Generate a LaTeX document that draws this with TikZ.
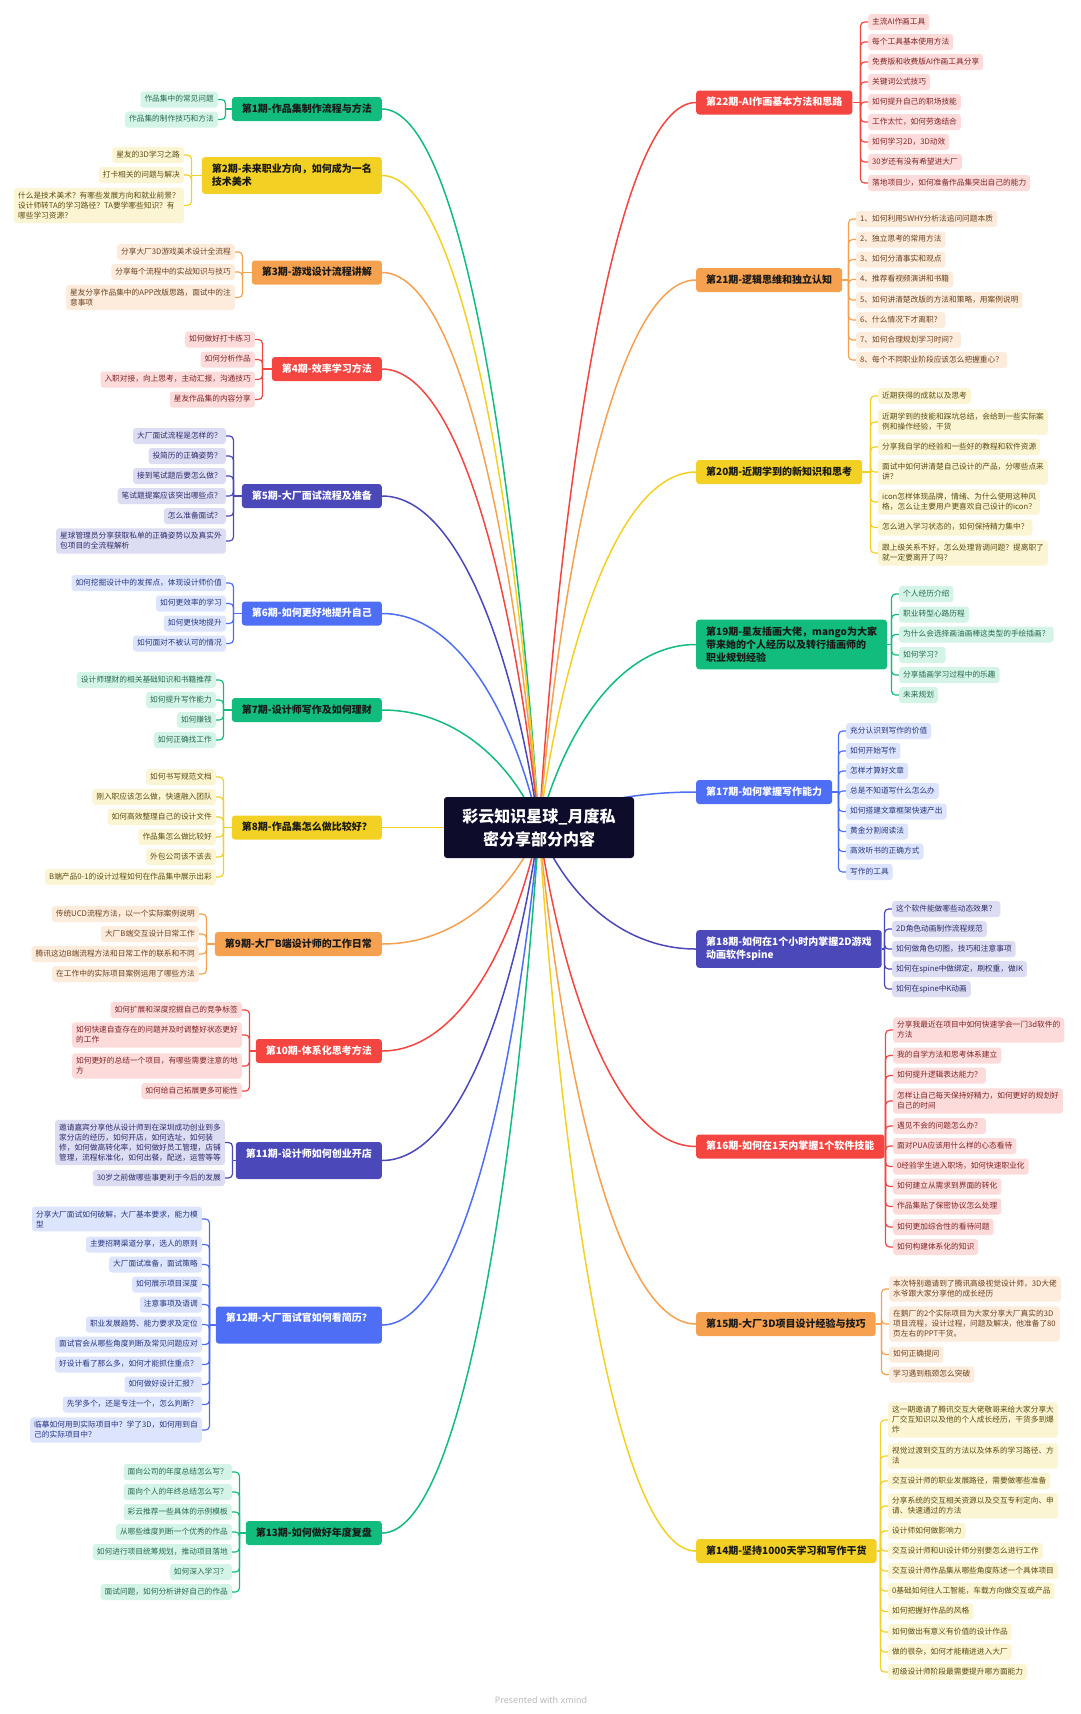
\documentclass[tikz,border=0pt]{standalone}
\usepackage{fontspec}
\setmainfont{Noto Sans CJK SC}
\newfontfamily\latinfont{Noto Sans}
\usetikzlibrary{calc}
\pgfdeclarelayer{bg}
\pgfsetlayers{bg,main}
\definecolor{cG}{HTML}{12BC7C}
\definecolor{cY}{HTML}{F2D124}
\definecolor{cO}{HTML}{F6A14F}
\definecolor{cR}{HTML}{F44541}
\definecolor{cI}{HTML}{4B48B9}
\definecolor{cB}{HTML}{4E6EF6}
\definecolor{fG}{HTML}{D3F4E6}
\definecolor{fY}{HTML}{FCF5D3}
\definecolor{fO}{HTML}{FDEBDC}
\definecolor{fR}{HTML}{FDDBDB}
\definecolor{fI}{HTML}{DCDCF2}
\definecolor{fB}{HTML}{DDE4FE}
\definecolor{xG}{HTML}{2A6A50}
\definecolor{xY}{HTML}{5C4C12}
\definecolor{xO}{HTML}{6B4320}
\definecolor{xR}{HTML}{7E2525}
\definecolor{xI}{HTML}{2E2D6C}
\definecolor{xB}{HTML}{28387E}
\definecolor{ctrC}{HTML}{0D0C2B}
\definecolor{footC}{HTML}{BBBBBB}
\tikzset{
 lf/.style={rounded corners=3pt, inner xsep=4pt, inner ysep=4pt, font=\fontsize{7.7}{10}\selectfont, text height=6.3pt, text depth=1.7pt, align=left},
 ml/.style={text height=, text depth=},
 lfG/.style={fill=fG,text=xG}, lfY/.style={fill=fY,text=xY}, lfO/.style={fill=fO,text=xO},
 lfR/.style={fill=fR,text=xR}, lfI/.style={fill=fI,text=xI}, lfB/.style={fill=fB,text=xB},
 ttl/.style={rounded corners=3pt, inner xsep=10pt, inner ysep=7pt, font=\fontsize{10}{13}\selectfont\bfseries, text height=8pt, text depth=2pt, align=left},
 tml/.style={text height=, text depth=},
 tall/.style={text depth=15pt},
 tG/.style={fill=cG,text=black!90}, tY/.style={fill=cY,text=black!90}, tO/.style={fill=cO,text=black!90},
 tR/.style={fill=cR,text=white}, tI/.style={fill=cI,text=white}, tB/.style={fill=cB,text=white},
 br/.style={line width=1.2pt, rounded corners=4pt},
 lnG/.style={draw=cG}, lnY/.style={draw=cY}, lnO/.style={draw=cO},
 lnR/.style={draw=cR}, lnI/.style={draw=cI}, lnB/.style={draw=cB},
 hubline/.style={line width=1.5pt}
}
\newcommand\hublink[2]{\draw[hubline,#2] let \p1=(ctr.center), \p2=(#1) in (\p1) .. controls ({\x1+0.15*(\x2-\x1)},{0.5*\y1+0.5*\y2}) and ({0.5*\x1+0.5*\x2},\y2) .. (\p2);}
\newcommand\TL[6]{\node[ttl,t#2,anchor=east,#6] (#1) at (382,#3) {#4};
 \coordinate (b#1) at (#5,#3);
 \begin{pgfonlayer}{bg}\draw[br,ln#2] (#1.west) -- (b#1); \hublink{#1.east}{ln#2}\end{pgfonlayer}}
\newcommand\TR[6]{\node[ttl,t#2,anchor=west,#6] (#1) at (696,#3) {#4};
 \coordinate (b#1) at (#5,#3);
 \begin{pgfonlayer}{bg}\draw[br,ln#2] (#1.east) -- (b#1); \hublink{#1.west}{ln#2}\end{pgfonlayer}}
\newcommand\LL[6]{\node[lf,lf#2,anchor=east] (#1) at (#3,#4) {#5};
 \begin{pgfonlayer}{bg}\draw[br,ln#2] (#6) |- (#1.east);\end{pgfonlayer}}
\newcommand\LM[6]{\node[lf,ml,lf#2,anchor=east] (#1) at (#3,#4) {#5};
 \begin{pgfonlayer}{bg}\draw[br,ln#2] (#6) |- (#1.east);\end{pgfonlayer}}
\newcommand\RL[6]{\node[lf,lf#2,anchor=west] (#1) at (#3,#4) {#5};
 \begin{pgfonlayer}{bg}\draw[br,ln#2] (#6) |- (#1.west);\end{pgfonlayer}}
\newcommand\RM[6]{\node[lf,ml,lf#2,anchor=west] (#1) at (#3,#4) {#5};
 \begin{pgfonlayer}{bg}\draw[br,ln#2] (#6) |- (#1.west);\end{pgfonlayer}}
\begin{document}
\begin{tikzpicture}[x=1pt,y=-1pt]
\useasboundingbox (0,0) rectangle (1080,1714);
\begin{pgfonlayer}{bg}\fill[white] (0,0) rectangle (1080,1714);\end{pgfonlayer}
\node[fill=ctrC, text=white, rounded corners=3pt, minimum width=190pt, minimum height=61pt, align=center, font=\fontsize{16}{23}\selectfont\bfseries] (ctr) at (539,827.5) {彩云知识星球\_月度私\\密分享部分内容};

% ---------- left side ----------
\TL{t1}{G}{109}{第1期-作品集制作流程与方法}{225.5}{}
\LL{l1a}{G}{218}{99.5}{作品集中的常见问题}{bt1}
\LL{l1b}{G}{218}{119.5}{作品集的制作技巧和方法}{bt1}

\TL{t2}{Y}{175.5}{第2期-未来职业方向，如何成为一名\\技术美术}{191.5}{tml}
\LL{l2a}{Y}{184}{155}{星友的3D学习之路}{bt2}
\LL{l2b}{Y}{184}{175}{打卡相关的问题与解决}{bt2}
\LM{l2c}{Y}{184}{205.5}{什么是技术美术？有哪些发展方向和就业前景？\\设计师转TA的学习路径？TA要学哪些知识？有\\哪些学习资源？}{bt2}

\TL{t3}{O}{272.5}{第3期-游戏设计流程讲解}{242.5}{}
\LL{l3a}{O}{235}{252}{分享大厂3D游戏美术设计全流程}{bt3}
\LL{l3b}{O}{235}{272}{分享每个流程中的实战知识与技巧}{bt3}
\LM{l3c}{O}{235}{297.5}{星友分享作品集中的APP改版思路，面试中的注\\意事项}{bt3}

\TL{t4}{R}{369}{第4期-效率学习方法}{262.5}{}
\LL{l4a}{R}{255}{339.5}{如何做好打卡练习}{bt4}
\LL{l4b}{R}{255}{359.5}{如何分析作品}{bt4}
\LL{l4c}{R}{255}{379.5}{入职对接，向上思考，主动汇报，沟通技巧}{bt4}
\LL{l4d}{R}{255}{399.5}{星友作品集的内容分享}{bt4}

\TL{t5}{I}{496}{第5期-大厂面试流程及准备}{233.5}{}
\LL{l5a}{I}{226}{436}{大厂面试流程是怎样的？}{bt5}
\LL{l5b}{I}{226}{456}{投简历的正确姿势？}{bt5}
\LL{l5c}{I}{226}{476}{接到笔试题后要怎么做？}{bt5}
\LL{l5d}{I}{226}{496}{笔试题提案应该突出哪些点？}{bt5}
\LL{l5e}{I}{226}{516}{怎么准备面试？}{bt5}
\LM{l5f}{I}{226}{541}{星球管理员分享获取私单的正确姿势以及真实外\\包项目的全流程解析}{bt5}

\TL{t6}{B}{613.5}{第6期-如何更好地提升自己}{233.5}{}
\LL{l6a}{B}{226}{583}{如何挖掘设计中的发挥点，体现设计师价值}{bt6}
\LL{l6b}{B}{226}{603.5}{如何更效率的学习}{bt6}
\LL{l6c}{B}{226}{623.5}{如何更快地提升}{bt6}
\LL{l6d}{B}{226}{643.5}{如何面对不被认可的情况}{bt6}

\TL{t7}{G}{710}{第7期-设计师写作及如何理财}{223.5}{}
\LL{l7a}{G}{216}{680}{设计师理财的相关基础知识和书籍推荐}{bt7}
\LL{l7b}{G}{216}{700}{如何提升写作能力}{bt7}
\LL{l7c}{G}{216}{720}{如何赚钱}{bt7}
\LL{l7d}{G}{216}{740}{如何正确找工作}{bt7}

\TL{t8}{Y}{827.5}{第8期-作品集怎么做比较好？}{223.5}{}
\LL{l8a}{Y}{216}{777}{如何书写规范文档}{bt8}
\LL{l8b}{Y}{216}{797}{刚入职应该怎么做，快速融入团队}{bt8}
\LL{l8c}{Y}{216}{817}{如何高效整理自己的设计文件}{bt8}
\LL{l8d}{Y}{216}{837}{作品集怎么做比较好}{bt8}
\LL{l8e}{Y}{216}{857}{外包公司该不该去}{bt8}
\LL{l8f}{Y}{216}{877}{B端产品0-1的设计过程如何在作品集中展示出彩}{bt8}

\TL{t9}{O}{944}{第9期-大厂B端设计师的工作日常}{206.5}{}
\LL{l9a}{O}{199}{914}{传统UCD流程方法，以一个实际案例说明}{bt9}
\LL{l9b}{O}{199}{934}{大厂B端交互设计日常工作}{bt9}
\LL{l9c}{O}{199}{954}{腾讯这边B端流程方法和日常工作的联系和不同}{bt9}
\LL{l9d}{O}{199}{974}{在工作中的实际项目案例运用了哪些方法}{bt9}

\TL{t10}{R}{1051}{第10期-体系化思考方法}{249.5}{}
\LL{l10a}{R}{242}{1010}{如何扩展和深度挖掘自己的竞争标签}{bt10}
\LM{l10b}{R}{242}{1035}{如何快速自查存在的问题并及时调整好状态更好\\的工作}{bt10}
\LM{l10c}{R}{242}{1066}{如何更好的总结一个项目，有哪些需要注意的地\\方}{bt10}
\LL{l10d}{R}{242}{1091}{如何给自己拓展更多可能性}{bt10}

\TL{t11}{I}{1160.5}{第11期-设计师如何创业开店}{232.5}{tall}
\LM{l11a}{I}{225}{1142.5}{邀请嘉宾分享他从设计师到在深圳成功创业到多\\家分店的经历，如何开店，如何选址，如何装\\修，如何做高转化率，如何做好员工管理，店铺\\管理，流程标准化，如何出餐，配送，运营等等}{bt11}
\LL{l11b}{I}{225}{1178}{30岁之前做哪些事更利于今后的发展}{bt11}

\TL{t12}{B}{1325}{第12期-大厂面试官如何看简历？}{209.5}{tall}
\LM{l12a}{B}{202}{1219}{分享大厂面试如何破解，大厂基本要求，能力模\\型}{bt12}
\LL{l12b}{B}{202}{1244.5}{主要招聘渠道分享，选人的原则}{bt12}
\LL{l12c}{B}{202}{1264.5}{大厂面试准备，面试策略}{bt12}
\LL{l12d}{B}{202}{1284.5}{如何展示项目深度}{bt12}
\LL{l12e}{B}{202}{1304.5}{注意事项及语调}{bt12}
\LL{l12f}{B}{202}{1324.5}{职业发展趋势、能力要求及定位}{bt12}
\LL{l12g}{B}{202}{1344.5}{面试官会从哪些角度判断及常见问题应对}{bt12}
\LL{l12h}{B}{202}{1364.5}{好设计看了那么多，如何才能抓住重点？}{bt12}
\LL{l12i}{B}{202}{1384.5}{如何做好设计汇报？}{bt12}
\LL{l12j}{B}{202}{1404.5}{先学多个，还是专注一个，怎么判断？}{bt12}
\LM{l12k}{B}{202}{1430}{临摹如何用到实际项目中？学了3D，如何用到自\\己的实际项目中？}{bt12}

\TL{t13}{G}{1533}{第13期-如何做好年度复盘}{239.5}{}
\LL{l13a}{G}{232}{1472}{面向公司的年度总结怎么写？}{bt13}
\LL{l13b}{G}{232}{1492}{面向个人的年终总结怎么写？}{bt13}
\LL{l13c}{G}{232}{1512}{彩云推荐一些具体的示例模板}{bt13}
\LL{l13d}{G}{232}{1532}{从哪些维度判断一个优秀的作品}{bt13}
\LL{l13e}{G}{232}{1552}{如何进行项目统筹规划，推动项目落地}{bt13}
\LL{l13f}{G}{232}{1572}{如何深入学习？}{bt13}
\LL{l13g}{G}{232}{1592}{面试问题，如何分析讲好自己的作品}{bt13}

% ---------- right side ----------
\TR{t22}{R}{102.5}{第22期-AI作画基本方法和思路}{860.5}{}
\RL{r22a}{R}{868}{22}{主流AI作画工具}{bt22}
\RL{r22b}{R}{868}{42}{每个工具基本使用方法}{bt22}
\RL{r22c}{R}{868}{62}{免费版和收费版AI作画工具分享}{bt22}
\RL{r22d}{R}{868}{82}{关键词公式技巧}{bt22}
\RL{r22e}{R}{868}{102}{如何提升自己的职场技能}{bt22}
\RL{r22f}{R}{868}{122}{工作太忙，如何劳逸结合}{bt22}
\RL{r22g}{R}{868}{142}{如何学习2D，3D动效}{bt22}
\RL{r22h}{R}{868}{162}{30岁还有没有希望进大厂}{bt22}
\RL{r22i}{R}{868}{183}{落地项目少，如何准备作品集突出自己的能力}{bt22}

\TR{t21}{O}{280}{第21期-逻辑思维和独立认知}{848.5}{}
\RL{r21a}{O}{856}{219}{1、如何利用5WHY分析法追问问题本质}{bt21}
\RL{r21b}{O}{856}{239.5}{2、独立思考的常用方法}{bt21}
\RL{r21c}{O}{856}{259.5}{3、如何分清事实和观点}{bt21}
\RL{r21d}{O}{856}{279.5}{4、推荐看视频演讲和书籍}{bt21}
\RL{r21e}{O}{856}{300}{5、如何讲清楚改版的方法和策略，用案例说明}{bt21}
\RL{r21f}{O}{856}{320}{6、什么情况下才离职？}{bt21}
\RL{r21g}{O}{856}{340}{7、如何合理规划学习时间？}{bt21}
\RL{r21h}{O}{856}{360}{8、每个不同职业阶段应该怎么把握重心？}{bt21}

\TR{t20}{Y}{472}{第20期-近期学到的新知识和思考}{870.5}{}
\RL{r20a}{Y}{878}{396}{近期获得的成就以及思考}{bt20}
\RM{r20b}{Y}{878}{422}{近期学到的技能和踩坑总结，会给到一些实际案\\例和操作经验，干货}{bt20}
\RL{r20c}{Y}{878}{447}{分享我自学的经验和一些好的教程和软件资源}{bt20}
\RM{r20d}{Y}{878}{472}{面试中如何讲清楚自己设计的产品，分哪些点来\\讲？}{bt20}
\RM{r20e}{Y}{878}{502}{icon怎样体现品牌，情绪、为什么使用这种风\\格，怎么让主要用户更喜欢自己设计的icon？}{bt20}
\RL{r20f}{Y}{878}{527.5}{怎么进入学习状态的，如何保持精力集中？}{bt20}
\RM{r20g}{Y}{878}{553}{跟上级关系不好，怎么处理背调问题？提离职了\\就一定要离开了吗？}{bt20}

\TR{t19}{G}{644.5}{第19期-星友插画大佬，mango为大家\\带来她的个人经历以及转行插画师的\\职业规划经验}{891.5}{tml}
\RL{r19a}{G}{899}{594}{个人经历介绍}{bt19}
\RL{r19b}{G}{899}{614.5}{职业转型心路历程}{bt19}
\RL{r19c}{G}{899}{634.5}{为什么会选择画油画棒这类型的手绘插画？}{bt19}
\RL{r19d}{G}{899}{655}{如何学习？}{bt19}
\RL{r19e}{G}{899}{675}{分享插画学习过程中的乐趣}{bt19}
\RL{r19f}{G}{899}{695}{未来规划}{bt19}

\TR{t17}{B}{792}{第17期-如何掌握写作能力}{838.5}{}
\RL{r17a}{B}{846}{731}{充分认识到写作的价值}{bt17}
\RL{r17b}{B}{846}{751}{如何开始写作}{bt17}
\RL{r17c}{B}{846}{771}{怎样才算好文章}{bt17}
\RL{r17d}{B}{846}{791}{总是不知道写什么怎么办}{bt17}
\RL{r17e}{B}{846}{811.5}{如何搭建文章框架快速产出}{bt17}
\RL{r17f}{B}{846}{831.5}{黄金分割阅读法}{bt17}
\RL{r17g}{B}{846}{851.5}{高效听书的正确方式}{bt17}
\RL{r17h}{B}{846}{872}{写作的工具}{bt17}

\TR{t18}{I}{949}{第18期-如何在1个小时内掌握2D游戏\\动画软件spine}{884.5}{tml}
\RL{r18a}{I}{892}{909}{这个软件能做哪些动态效果？}{bt18}
\RL{r18b}{I}{892}{929}{2D角色动画制作流程规范}{bt18}
\RL{r18c}{I}{892}{949}{如何做角色切图，技巧和注意事项}{bt18}
\RL{r18d}{I}{892}{969}{如何在spine中做绑定，刷权重，做IK}{bt18}
\RL{r18e}{I}{892}{989}{如何在spine中K动画}{bt18}

\TR{t16}{R}{1146.5}{第16期-如何在1天内掌握1个软件技能}{885.5}{}
\RM{r16a}{R}{893}{1030}{分享我最近在项目中如何快速学会一门3d软件的\\方法}{bt16}
\RL{r16b}{R}{893}{1055.5}{我的自学方法和思考体系建立}{bt16}
\RL{r16c}{R}{893}{1075.5}{如何提升逻辑表达能力？}{bt16}
\RM{r16d}{R}{893}{1101}{怎样让自己每天保持好精力，如何更好的规划好\\自己的时间}{bt16}
\RL{r16e}{R}{893}{1126}{遇见不会的问题怎么办？}{bt16}
\RL{r16f}{R}{893}{1146}{面对PUA应该用什么样的心态看待}{bt16}
\RL{r16g}{R}{893}{1166.5}{0经验学生进入职场，如何快速职业化}{bt16}
\RL{r16h}{R}{893}{1186.5}{如何建立从需求到界面的转化}{bt16}
\RL{r16i}{R}{893}{1206.5}{作品集贴了保密协议怎么处理}{bt16}
\RL{r16j}{R}{893}{1227}{如何更加综合性的看待问题}{bt16}
\RL{r16k}{R}{893}{1247}{如何构建体系化的知识}{bt16}

\TR{t15}{O}{1324}{第15期-大厂3D项目设计经验与技巧}{881.5}{}
\RM{r15a}{O}{889}{1289}{本次特别邀请到了腾讯高级视觉设计师，3D大佬\\水爷跟大家分享他的成长经历}{bt15}
\RM{r15b}{O}{889}{1324}{在鹅厂的2个实际项目为大家分享大厂真实的3D\\项目流程，设计过程，问题及解决，他准备了80\\页左右的PPT干货。}{bt15}
\RL{r15c}{O}{889}{1354.5}{如何正确提问}{bt15}
\RL{r15d}{O}{889}{1374.5}{学习遇到瓶颈怎么突破}{bt15}

\TR{t14}{Y}{1551}{第14期-坚持1000天学习和写作干货}{880.5}{}
\RM{r14a}{Y}{888}{1420}{这一期邀请了腾讯交互大佬敬哥来给大家分享大\\厂交互知识以及他的个人成长经历，干货多到爆\\炸}{bt14}
\RM{r14b}{Y}{888}{1456}{视觉过渡到交互的方法以及体系的学习路径、方\\法}{bt14}
\RL{r14c}{Y}{888}{1481}{交互设计师的职业发展路径，需要做哪些准备}{bt14}
\RM{r14d}{Y}{888}{1506}{分享系统的交互相关资源以及交互专利定向、申\\请、快速通过的方法}{bt14}
\RL{r14e}{Y}{888}{1531}{设计师如何做影响力}{bt14}
\RL{r14f}{Y}{888}{1551}{交互设计师和UI设计师分别要怎么进行工作}{bt14}
\RL{r14g}{Y}{888}{1571}{交互设计师作品集从哪些角度陈述一个具体项目}{bt14}
\RL{r14h}{Y}{888}{1591}{0基础如何往人工智能，车载方向做交互或产品}{bt14}
\RL{r14i}{Y}{888}{1611.5}{如何把握好作品的风格}{bt14}
\RL{r14j}{Y}{888}{1632}{如何做出有意义有价值的设计作品}{bt14}
\RL{r14k}{Y}{888}{1652}{做的很杂，如何才能精进进入大厂}{bt14}
\RL{r14l}{Y}{888}{1672}{初级设计师阶段最需要提升哪方面能力}{bt14}

\node[font=\latinfont\fontsize{9}{11}\selectfont, text=footC] (foot) at (541,1700) {Presented with \textbf{xmind}};
\end{tikzpicture}
\end{document}
